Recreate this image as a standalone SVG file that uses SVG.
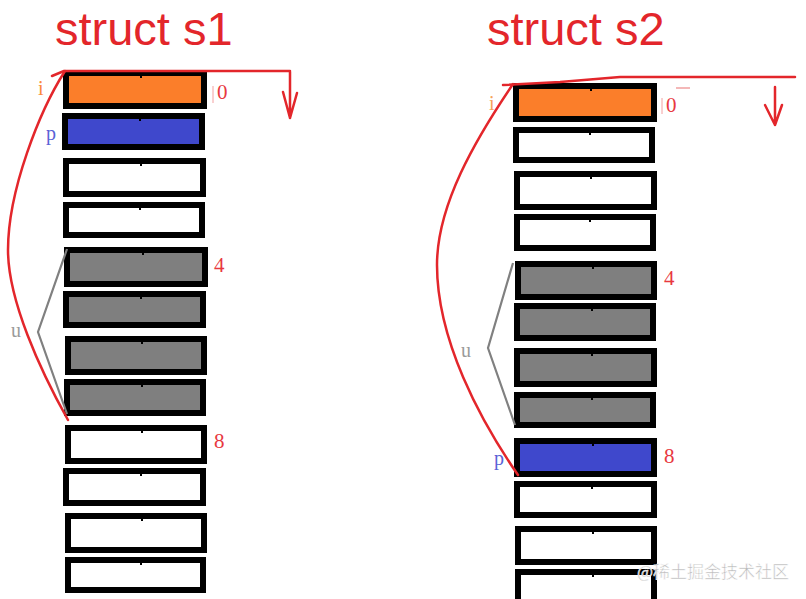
<svg xmlns="http://www.w3.org/2000/svg" width="806" height="599" viewBox="0 0 806 599">
<style>
.b{stroke:#000;stroke-width:6;fill:#fff}
.o{fill:#fb7e2a}.bl{fill:#3f48cc}.g{fill:#7f7f7f}
.d{fill:#000}
.t{font-family:"Liberation Sans","Noto Sans",sans-serif;font-size:47px;fill:#e3262b}
.n{font-family:"Liberation Serif",serif;font-size:21px;fill:#e8393f}
.l{font-family:"Liberation Serif",serif;font-size:20px}
.r{fill:none;stroke:#e3262b;stroke-width:2.5;stroke-linecap:round;stroke-linejoin:round}
.gr{fill:none;stroke:#808080;stroke-width:2.2}
</style>
<rect width="806" height="599" fill="#fff"/>
<text class="t" x="55" y="45">struct s1</text>
<text class="t" x="487" y="45">struct s2</text>
<g id="s1">
<g id="s1-b1"><rect class="b o" x="66" y="73" width="138" height="33"/></g>
<g id="s1-b2"><rect class="b bl" x="65" y="116" width="137" height="31"/></g>
<g id="s1-b3"><rect class="b" x="66" y="161" width="137" height="33"/></g>
<g id="s1-b4"><rect class="b" x="66" y="205" width="136" height="30"/></g>
<g id="s1-b5"><rect class="b g" x="67" y="250" width="138" height="34"/></g>
<g id="s1-b6"><rect class="b g" x="66" y="294" width="137" height="31"/></g>
<g id="s1-b7"><rect class="b g" x="68" y="339" width="136" height="33"/></g>
<g id="s1-b8"><rect class="b g" x="67" y="382" width="136" height="31"/></g>
<g id="s1-b9"><rect class="b" x="68" y="428" width="136" height="33"/></g>
<g id="s1-b10"><rect class="b" x="66" y="471" width="137" height="32"/></g>
<g id="s1-b11"><rect class="b" x="68" y="516" width="136" height="34"/></g>
<g id="s1-b12"><rect class="b" x="68" y="560" width="135" height="30"/></g>
<g class="d"><rect x="140" y="76" width="2" height="2"/><rect x="139" y="119" width="2" height="2"/><rect x="140" y="164" width="2" height="2"/><rect x="139" y="208" width="2" height="2"/><rect x="142" y="253" width="2" height="2"/><rect x="140" y="297" width="2" height="2"/><rect x="141" y="342" width="2" height="2"/><rect x="141" y="385" width="2" height="2"/><rect x="141" y="431" width="2" height="2"/><rect x="140" y="474" width="2" height="2"/><rect x="141" y="519" width="2" height="2"/><rect x="140" y="563" width="2" height="2"/></g>
<g id="s1-labels">
<text class="l" x="38" y="95" fill="#fb8a3a">i</text>
<text class="l" x="46" y="140" fill="#5a62d6">p</text>
<text class="l" x="11" y="337" fill="#9a9a9a">u</text>
<line x1="213" y1="86" x2="213" y2="103" stroke="#f3a0a0" stroke-width="1"/>
<text class="n" x="217" y="99">0</text>
<text class="n" x="214" y="272">4</text>
<text class="n" x="214" y="448">8</text>
</g>
</g>
<g id="s2">
<g id="s2-b1"><rect class="b o" x="516" y="86" width="138" height="33"/></g>
<g id="s2-b2"><rect class="b" x="516" y="130" width="136" height="30"/></g>
<g id="s2-b3"><rect class="b" x="517" y="174" width="137" height="33"/></g>
<g id="s2-b4"><rect class="b" x="517" y="217" width="136" height="31"/></g>
<g id="s2-b5"><rect class="b g" x="518" y="264" width="136" height="33"/></g>
<g id="s2-b6"><rect class="b g" x="517" y="306" width="136" height="32"/></g>
<g id="s2-b7"><rect class="b g" x="517" y="351" width="137" height="33"/></g>
<g id="s2-b8"><rect class="b g" x="517" y="395" width="136" height="30"/></g>
<g id="s2-b9"><rect class="b bl" x="517" y="441" width="137" height="33"/></g>
<g id="s2-b10"><rect class="b" x="517" y="484" width="137" height="31"/></g>
<g id="s2-b11"><rect class="b" x="518" y="529" width="136" height="33"/></g>
<g id="s2-b12"><rect class="b" x="518" y="572" width="136" height="34"/></g>
<g class="d"><rect x="590" y="89" width="2" height="2"/><rect x="589" y="133" width="2" height="2"/><rect x="590" y="177" width="2" height="2"/><rect x="589" y="220" width="2" height="2"/><rect x="592" y="267" width="2" height="2"/><rect x="591" y="309" width="2" height="2"/><rect x="591" y="354" width="2" height="2"/><rect x="591" y="398" width="2" height="2"/><rect x="592" y="444" width="2" height="2"/><rect x="591" y="487" width="2" height="2"/><rect x="592" y="532" width="2" height="2"/><rect x="592" y="575" width="2" height="2"/></g>
<g id="s2-labels">
<text class="l" x="489" y="110" fill="#f7a35a">i</text>
<text class="l" x="494" y="465" fill="#5a62d6">p</text>
<text class="l" x="461" y="357" fill="#9a9a9a">u</text>
<line x1="662" y1="98" x2="662" y2="114" stroke="#f3a0a0" stroke-width="1"/>
<line x1="676" y1="88" x2="690" y2="88" stroke="#f0a0a0" stroke-width="1.5"/>
<text class="n" x="666" y="112">0</text>
<text class="n" x="664" y="285">4</text>
<text class="n" x="664" y="463">8</text>
</g>
</g>
<g id="connectors">
<path class="gr" d="M67,249 L38,332 L67,414"/>
<path class="gr" d="M513,263 L488,348 L515,425"/>
<path class="r" d="M65,71 C40,110 8,190 8,250 C8,300 40,370 68,420"/>
<path class="r" d="M52,76 L64,71 L290,71"/>
<path class="r" d="M290,72 L290,118 M283,92 L290,118 M297,93 L290,118"/>
<path class="r" d="M513,84 C475,140 437,205 437,265 C437,340 480,420 518,475"/>
<path class="r" d="M503,85 L560,82 L620,77 L795,77"/>
<path class="r" d="M775,87 L775,125 M765,105 L775,125 M782,105 L775,125"/>
</g>
<text x="637" y="578" font-family="'Noto Sans CJK SC',sans-serif" font-size="17" fill="#b8b8b8" stroke="#fff" stroke-width="0.5">@稀土掘金技术社区</text>
</svg>
